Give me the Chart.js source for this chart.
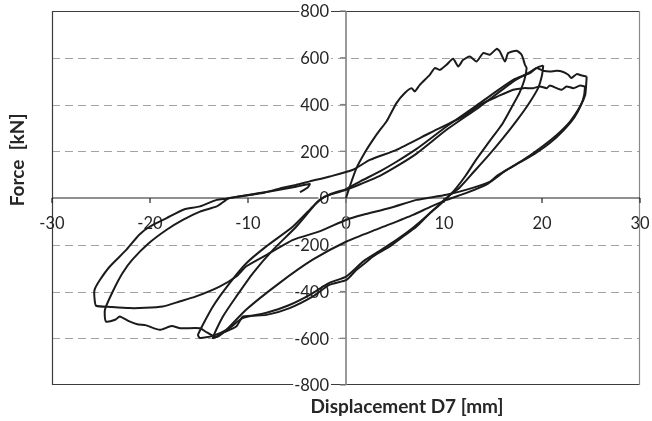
<!DOCTYPE html>
<html>
<head>
<meta charset="utf-8">
<title>Force vs Displacement D7</title>
<script src="https://cdn.jsdelivr.net/npm/chart.js@4.4.0/dist/chart.umd.min.js"></script>
<style>
    html, body { margin: 0; padding: 0; background: #ffffff; }
    #wrap { width: 652px; height: 421px; }
</style>
</head>
<body>
<div id="wrap"><canvas id="hysteresisChart" width="652" height="421"></canvas></div>
<script>
// --- DATA ---
const xTicks = [-30, -20, -10, 0, 10, 20, 30];
const yTicks = [-800, -600, -400, -200, 0, 200, 400, 600, 800];

// Cycle 1: virgin loading, unload to -13.6 mm, reload to +20 mm
const dispC1 = [0, 0.38, 1.07, 2.0, 2.8, 3.45, 4.13, 5.15, 6.0, 6.69, 7.02, 7.53, 8.55, 9.06, 9.58, 10.26, 10.93, 11.45, 11.96, 12.64, 13.32, 14.0, 14.68, 15.37, 15.7, 16.22, 16.55, 17.41, 17.92, 18.26, 18.43,
    18.2, 17.7, 17.06, 16.0, 14.6, 13.3, 12.2, 11.2, 10.3,
    9.4, 8.55, 7.2, 5.83, 4.47, 2.77, 1.92, 1.07, 0.05, -1.66, -3.37, -5.75, -8.1, -10.5, -11.2, -12.6, -13.58,
    -12.56, -11.19, -9.49, -7.45, -5.06, -3.02, -2.2, -1.0, 0,
    1.5, 3.46, 5.15, 7.2, 10.26, 13.66, 17.06, 18.8, 19.6, 20.13];
const forceC1 = [0, 49, 128, 200, 252, 290, 327, 406, 449, 470, 456, 484, 527, 556, 548, 570, 596, 563, 591, 605, 584, 620, 613, 638, 627, 584, 620, 630, 613, 570, 556,
    505, 450, 400, 320, 240, 165, 95, 40, 0,
    -35, -65, -122, -165, -207, -250, -279, -307, -350, -371, -421, -471, -500, -507, -550, -578, -599,
    -507, -421, -321, -222, -122, -22, 5, 22, 35,
    60, 95, 135, 190, 292, 391, 498, 540, 560, 567];

// Cycle 2: unload to -15 mm, reload to +24.5 mm
const dispC2 = [20.13, 20.0, 19.6, 18.6, 17.4, 16.0, 14.5, 13.0, 11.6, 10.4, 9.6, 8.3, 6.9, 5.3, 3.6, 1.8, 0.05, -1.8, -3.5, -5.9, -8.2, -10.6, -12.0, -13.6, -14.9, -15.1,
    -13.58, -11.87, -10.17, -8.13, -5.41, -3.37, -2.68, -1.5, 0,
    1.5, 3.46, 5.15, 7.2, 10.26, 13.66, 17.06, 18.77, 19.45, 20.13, 20.81, 21.5, 22.17, 22.68, 23.0, 23.54, 24.05, 24.56];
const forceC2 = [567, 525, 470, 400, 330, 255, 180, 110, 45, 5, -25, -75, -125, -175, -222, -270, -335, -365, -410, -460, -492, -515, -560, -590, -599, -585,
    -464, -364, -279, -207, -122, -36, -8, 18, 38,
    72, 114, 155, 210, 306, 406, 505, 534, 556, 544, 541, 544, 539, 527, 513, 530, 524, 520];

// Cycle 3: unload to -24.6 mm, reload to +24.4 mm
const dispC3 = [24.56, 24.5, 24.4, 23.88, 22.86, 21.5, 19.79, 18.09, 16.39, 14.5, 12.3, 10.26, 8.5, 6.85, 3.45, 0.05, -3.4, -6.8, -10.2, -12.2, -13.2, -14.2, -14.9, -16.9, -17.8, -19.0, -20.4, -21.3, -22.1, -23.1, -23.5, -24.5, -24.6,
    -23.8, -22.8, -21.8, -20.1, -18.3, -16.6, -14.9, -13.2, -12.3, -11.9, -10.0, -8.5, -6.8, -5.1, -3.7, -1.66, 0.72, 2.43, 5.15, 8.55, 11.96, 13.66, 15.5, 17.06,
    18.09, 19.1, 19.79, 20.47, 20.81, 21.5, 22.0, 22.5, 23.2, 23.88, 24.39];
const forceC3 = [520, 480, 440, 391, 327, 270, 213, 163, 120, 62, 22, -8, -40, -72, -129, -186, -264, -364, -478, -564, -595, -575, -557, -557, -548, -564, -545, -540, -528, -507, -520, -528, -478,
    -400, -321, -264, -193, -136, -93, -58, -36, -10, 0, 12, 21, 40, 56, 71, 92, 121, 163, 206, 278, 349, 399, 435, 463,
    470, 470, 477, 470, 481, 470, 463, 477, 470, 481, 477];

// Cycle 4: unload to -25.7 mm, partial reload (end of test)
const dispC4 = [24.39, 24.3, 24.0, 23.3, 22.2, 20.8, 19.2, 17.3, 15.5, 14.7, 12.5, 10.26, 8.3, 7.2, 4.47, 1.74, 0.05, -2.7, -5.4, -8.1, -10.2, -11.2, -12.9, -15.3, -17.0, -18.7, -20.5, -22.1, -24.0, -25.5, -25.66, -25.66,
    -25.1, -24.1, -22.4, -21.1, -20.0, -18.3, -16.6, -14.9, -13.2, -12.2, -10.9, -8.8, -6.8, -5.1, -3.7, -3.9, -4.7];
const forceC4 = [477, 440, 400, 345, 290, 235, 188, 142, 98, 70, 38, 14, 0, -8, -43, -72, -93, -143, -179, -243, -293, -336, -379, -421, -443, -464, -470, -471, -466, -461, -430, -393,
    -350, -293, -221, -157, -122, -86, -50, -36, -8, -3, 6, 21, 35, 48, 60, 45, 25];

const cycles = [[dispC1, forceC1], [dispC2, forceC2], [dispC3, forceC3], [dispC4, forceC4]];

// --- AXES / LABELS DRAWN THROUGH THE SCALES ---
const excelAxes = {
    id: 'excelAxes',
    beforeDatasetsDraw(chart) {
        const { ctx, scales: { x, y } } = chart;
        const left = x.getPixelForValue(-30), right = x.getPixelForValue(30);
        const top = y.getPixelForValue(800), bottom = y.getPixelForValue(-800);
        const x0 = x.getPixelForValue(0), y0 = y.getPixelForValue(0);
        ctx.save();

        // dashed grid
        ctx.strokeStyle = '#a3a3a3';
        ctx.lineWidth = 1;
        ctx.setLineDash([8, 5]);
        yTicks.forEach(v => {
            if (v === 0 || Math.abs(v) === 800) return;
            const py = Math.round(y.getPixelForValue(v)) + 0.5;
            ctx.beginPath(); ctx.moveTo(left, py); ctx.lineTo(right, py); ctx.stroke();
        });
        ctx.setLineDash([]);

        // plot frame
        ctx.strokeStyle = '#3c3c3c';
        ctx.lineWidth = 1.2;
        ctx.beginPath();
        ctx.moveTo(right, top + 0.5); ctx.lineTo(left + 0.5, top + 0.5);
        ctx.lineTo(left + 0.5, bottom - 0.5); ctx.lineTo(right, bottom - 0.5);
        ctx.stroke();
        ctx.strokeStyle = '#8a8a8a';
        ctx.beginPath(); ctx.moveTo(right - 0.5, top); ctx.lineTo(right - 0.5, bottom); ctx.stroke();

        // horizontal zero axis + ticks
        ctx.strokeStyle = '#222';
        ctx.lineWidth = 1.2;
        ctx.beginPath(); ctx.moveTo(left, y0); ctx.lineTo(right, y0); ctx.stroke();
        xTicks.forEach(v => {
            const px = x.getPixelForValue(v);
            ctx.beginPath(); ctx.moveTo(px, y0); ctx.lineTo(px, y0 + 5); ctx.stroke();
        });

        // y tick labels (white box like Excel)
        ctx.font = '16.5px Lato, "Open Sans", sans-serif';
        ctx.textAlign = 'right';
        ctx.textBaseline = 'middle';
        yTicks.forEach(v => {
            const py = y.getPixelForValue(v);
            const tx = x0 - 17;
            const w = ctx.measureText(String(v)).width;
            ctx.fillStyle = '#ffffff';
            ctx.fillRect(tx - w - 1, py - 7, w + 3, 14);
            ctx.fillStyle = '#262626';
            ctx.fillText(String(v), tx, py + 1);
        });

        // x tick labels
        ctx.textAlign = 'center';
        xTicks.forEach(v => {
            ctx.fillText(String(v), x.getPixelForValue(v), y0 + 26);
        });

        // vertical zero axis + ticks
        ctx.strokeStyle = '#808080';
        ctx.lineWidth = 1.6;
        ctx.beginPath(); ctx.moveTo(x0, top); ctx.lineTo(x0, bottom); ctx.stroke();
        ctx.lineWidth = 1.2;
        yTicks.forEach(v => {
            const py = y.getPixelForValue(v);
            ctx.beginPath(); ctx.moveTo(x0 - 6, py); ctx.lineTo(x0, py); ctx.stroke();
        });

        // axis titles
        ctx.fillStyle = '#262626';
        ctx.font = 'bold 19px Lato, "Open Sans", sans-serif';
        ctx.textAlign = 'center';
        ctx.fillText('Displacement D7 [mm]', 407, 407);
        ctx.save();
        ctx.translate(18, 160);
        ctx.rotate(-Math.PI / 2);
        ctx.fillText('Force  [kN]', 0, 0);
        ctx.restore();

        ctx.restore();
    }
};

document.addEventListener('DOMContentLoaded', () => {
    const datasets = cycles.map(([d, f]) => ({
        data: d.map((v, i) => ({ x: v, y: f[i] })),
        showLine: true,
        borderColor: '#1b1b1b',
        borderWidth: 2,
        pointRadius: 0,
        tension: 0.2,
        fill: false
    }));

    new Chart(document.getElementById('hysteresisChart'), {
        type: 'scatter',
        data: { datasets },
        options: {
            responsive: false,
            animation: false,
            layout: { padding: { left: 52, right: 12, top: 11, bottom: 36 } },
            plugins: { legend: { display: false }, tooltip: { enabled: false } },
            scales: {
                x: { type: 'linear', min: -30, max: 30, display: false },
                y: { type: 'linear', min: -800, max: 800, display: false }
            }
        },
        plugins: [excelAxes]
    });
});
</script>
</body>
</html>
